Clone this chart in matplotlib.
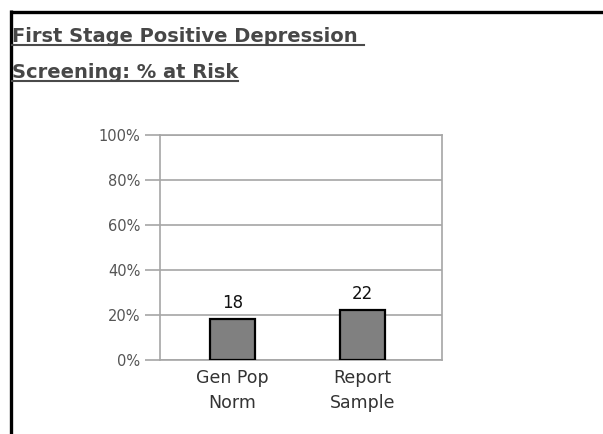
import matplotlib
matplotlib.use("Agg")
import matplotlib.pyplot as plt
from matplotlib.lines import Line2D

categories = ["Gen Pop\nNorm", "Report\nSample"]
values = [18, 22]
y_ticks = [0, 20, 40, 60, 80, 100]
y_tick_labels = ["0%", "20%", "40%", "60%", "80%", "100%"]
title_lines = ["First Stage Positive Depression ", "Screening: % at Risk"]

W, H = 603, 434
fig = plt.figure(figsize=(W / 100, H / 100), dpi=100)
fig.patch.set_facecolor("white")

font = "DejaVu Sans"
grid_col = "#a6a6a6"

# Panel border (top and left edges)
fig.add_artist(Line2D([9.5 / W, 1.0], [1 - 11.5 / H] * 2, color="black", lw=2.4,
                      transform=fig.transFigure, solid_capstyle="butt"))
fig.add_artist(Line2D([10.5 / W] * 2, [0.0, 1 - 10 / H], color="black", lw=2.4,
                      transform=fig.transFigure, solid_capstyle="butt"))

# Axes placement
left, right, top, bottom = 160, 442, 135, 359.5
ax = fig.add_axes([left / W, 1 - bottom / H, (right - left) / W, (bottom - top) / H])

x = [0, 1]
bars = ax.bar(x, values, width=0.35, color="#808080", edgecolor="black",
              linewidth=1.6, zorder=3)

ax.set_ylim(0, 100)
ax.set_xlim(-0.56, 1.615)
ax.set_yticks(y_ticks)
ax.set_yticklabels(y_tick_labels, fontfamily=font, fontsize=10.5, color="#555555")
ax.set_xticks(x)
ax.set_xticklabels(categories, fontfamily=font, fontsize=12.5, color="#333333",
                   linespacing=1.5)
ax.tick_params(axis="y", length=11, width=1.2, color=grid_col, pad=3)
ax.tick_params(axis="x", length=0, pad=7)
ax.yaxis.grid(True, color=grid_col, lw=1.2, zorder=0)
ax.set_axisbelow(True)
for s in ax.spines.values():
    s.set_color(grid_col)
    s.set_linewidth(1.2)

for xi, v in zip(x, values):
    ax.annotate(f"{v}", (xi, v), xytext=(0, 5), textcoords="offset points",
                ha="center", va="bottom", fontfamily=font, fontsize=12,
                color="#111111")

# Underlined heading
baselines = [41.5, 78]
fig.canvas.draw()
renderer = fig.canvas.get_renderer()
for line, yb in zip(title_lines, baselines):
    t = fig.text(12 / W, 1 - yb / H, line, fontfamily=font, fontsize=14,
                 fontweight="bold", color="#474747", ha="left", va="baseline")
    bb = t.get_window_extent(renderer=renderer)
    yu = 1 - (yb + 3.0) / H
    fig.add_artist(Line2D([bb.x0 / W, bb.x1 / W], [yu, yu], color="#4a4a4a",
                          lw=1.5, transform=fig.transFigure))

fig.savefig("out.png", dpi=100)
